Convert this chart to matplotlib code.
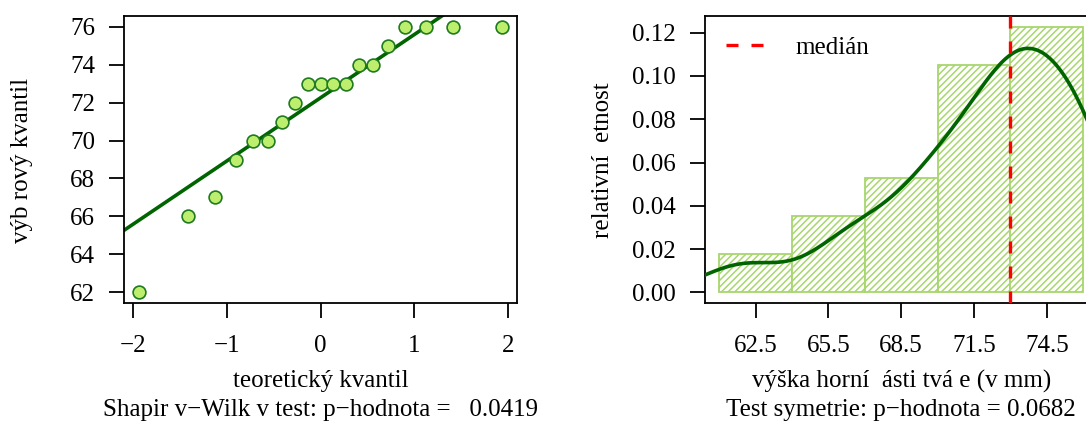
import numpy as np
import matplotlib
matplotlib.use("Agg")
import matplotlib.pyplot as plt
from statistics import NormalDist

vyska = [62, 66, 67, 69, 70, 70, 71, 72, 73, 73, 73, 73, 74, 74, 75, 76, 76, 76, 76]
bin_edges = [61, 64, 67, 70, 73, 76]
bin_mids = [62.5, 65.5, 68.5, 71.5, 74.5]
y_ticks_qq = [62, 64, 66, 68, 70, 72, 74, 76]
x_ticks_qq = [-2, -1, 0, 1, 2]
y_ticks_hist = [0.00, 0.02, 0.04, 0.06, 0.08, 0.10, 0.12]
p_shapiro = 0.0419
p_sym = 0.0682

FS = 18
plt.rcParams['font.family'] = ['Liberation Serif', 'DejaVu Serif']
plt.rcParams['font.size'] = FS
plt.rcParams['hatch.linewidth'] = 1.1

W, H = 1086, 422
fig = plt.figure(figsize=(W / 100, H / 100), dpi=100)

dark = '#006400'
bod = '#BDEE6D'
bod_edge = '#1E7B1E'
hist_col = '#A8D66E'

def r_style(ax):
    for s in ax.spines.values():
        s.set_linewidth(1.3)
    ax.tick_params(direction='out', length=10.8, width=1.3, labelsize=FS)
    ax.tick_params(axis='x', pad=12)
    ax.tick_params(axis='y', pad=10)

# --- levy panel: Q-Q plot ---
ax1 = fig.add_axes([124 / W, 1 - 303 / H, 393 / W, 287 / H])
y = np.sort(np.array(vyska, dtype=float))
n = len(y)
nd = NormalDist()
teor = np.array([nd.inv_cdf((i - 0.5) / n) for i in range(1, n + 1)])

# qqline pres kvartily
q1, q3 = np.quantile(y, [0.25, 0.75])
x1, x3 = nd.inv_cdf(0.25), nd.inv_cdf(0.75)
slope = (q3 - q1) / (x3 - x1)
icpt = q1 - slope * x1
xl = np.array([-3, 3])
ax1.plot(xl, icpt + slope * xl, color=dark, lw=2.6, zorder=2)
ax1.plot(teor, y, 'o', ms=9.2, mfc=bod, mec=bod_edge, mew=1.2, zorder=3)

ax1.set_xlim(-2.093, 2.093)
ax1.set_ylim(61.44, 76.56)
ax1.set_xticks(x_ticks_qq)
ax1.set_yticks(y_ticks_qq)
r_style(ax1)

cx1 = (124 + 517) / 2 / W
fig.text(cx1, 1 - 381 / H, 'teoretický kvantil', ha='center', va='center', fontsize=FS)
fig.text(cx1, 1 - 410 / H, 'Shapir v\u2212Wilk v test: p\u2212hodnota =   %.4f' % p_shapiro,
         ha='center', va='center', fontsize=FS)
fig.text(22 / W, 1 - 160 / H, 'výb rový kvantil', rotation=90, ha='center', va='center', fontsize=FS)

# --- pravy panel: histogram + hustota ---
ax2 = fig.add_axes([704.7 / W, 1 - 303 / H, 393 / W, 287 / H])
# intervaly zprava uzavrene (a, b] jako v R, prvni vcetne leve meze
idx = np.clip(np.searchsorted(bin_edges, y, side='left') - 1, 0, len(bin_edges) - 2)
counts = np.bincount(idx, minlength=len(bin_edges) - 1)
widths = np.diff(bin_edges)
dens = counts / (n * widths)
ax2.bar(bin_edges[:-1], dens, width=widths, align='edge', facecolor='white',
        edgecolor=hist_col, hatch='/////', linewidth=1.3, zorder=1)

# jadrovy odhad hustoty (bw.nrd0)
sd = np.std(y, ddof=1)
iqr = q3 - q1
bw = 0.9 * min(sd, iqr / 1.34) * n ** (-0.2)
xs = np.linspace(56, 82, 600)
kde = np.exp(-0.5 * ((xs[:, None] - y[None, :]) / bw) ** 2).sum(axis=1) / (n * bw * np.sqrt(2 * np.pi))
ax2.plot(xs, kde, color=dark, lw=2.6, zorder=3)

med = np.median(y)
ax2.axvline(med, color='red', lw=2.4, dashes=(3.6, 3.9), zorder=4, label='medián')

ax2.set_xlim(60.4, 76.6)
ax2.set_ylim(-0.0049, 0.1277)
ax2.set_xticks(bin_mids)
ax2.set_xticklabels(['%.1f' % v for v in bin_mids])
ax2.set_yticks(y_ticks_hist)
ax2.set_yticklabels(['%.2f' % v for v in y_ticks_hist])
r_style(ax2)

ax2.legend(loc='upper left', bbox_to_anchor=(0.053, 0.928), frameon=False,
           borderpad=0, borderaxespad=0, handlelength=1.48, handletextpad=1.32,
           fontsize=FS)

cx2 = (704.7 + 1097.6) / 2 / W
fig.text(cx2, 1 - 381 / H, 'výška horní  ásti tvá e (v mm)', ha='center', va='center', fontsize=FS)
fig.text(cx2, 1 - 410 / H, 'Test symetrie: p\u2212hodnota = %.4f' % p_sym,
         ha='center', va='center', fontsize=FS)
fig.text(603 / W, 1 - 160 / H, 'relativní  etnost', rotation=90, ha='center', va='center', fontsize=FS)

fig.savefig('out.png', dpi=100)
